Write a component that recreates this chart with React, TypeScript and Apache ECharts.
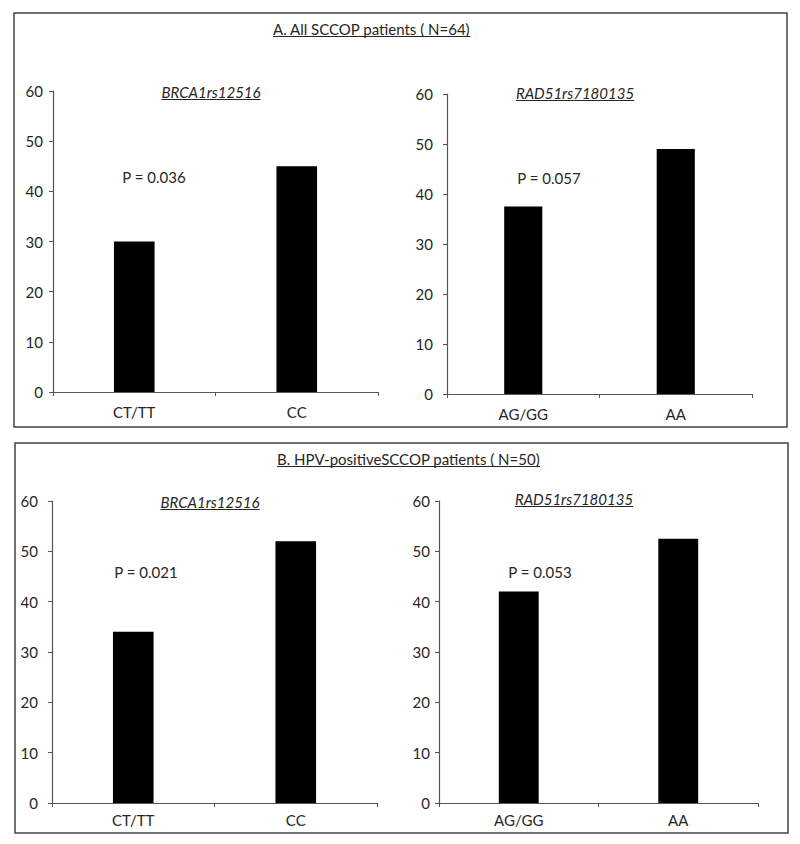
import React, { useEffect, useRef } from "react";
import * as echarts from "echarts";

const categoriesBRCA = ["CT/TT", "CC"];
const categoriesRAD = ["AG/GG", "AA"];
const valuesA_BRCA = [30, 45];
const valuesA_RAD = [37.5, 49];
const valuesB_BRCA = [34, 52];
const valuesB_RAD = [42, 52.5];
const yMin = 0;
const yMax = 60;
const yInterval = 10;

const titleA = "A. All SCCOP patients ( N=64)";
const titleB = "B. HPV-positiveSCCOP patients ( N=50)";
const geneBRCA = "BRCA1rs12516";
const geneRAD = "RAD51rs7180135";
const pA_BRCA = "P = 0.036";
const pA_RAD = "P = 0.057";
const pB_BRCA = "P = 0.021";
const pB_RAD = "P = 0.053";

const FONT = "Lato, 'Open Sans', sans-serif";
const TXT = "#262626";
const FS = 15;

function measure(text: string, size: number, italic = false) {
  const c = document.createElement("canvas");
  const ctx = c.getContext("2d")!;
  ctx.font = `${italic ? "italic " : ""}${size}px ${FONT}`;
  return ctx.measureText(text).width;
}

export default function App() {
  const ref = useRef<HTMLDivElement>(null);
  useEffect(() => {
    if (!ref.current) return;
    const chart = echarts.init(ref.current, undefined, { renderer: "svg" });

    const grids = [
      { left: 53, top: 91, width: 325, height: 301 },
      { left: 447, top: 94, width: 305, height: 300 },
      { left: 52, top: 501, width: 325, height: 302 },
      { left: 439, top: 501, width: 319, height: 302 },
    ];
    const cats = [categoriesBRCA, categoriesRAD, categoriesBRCA, categoriesRAD];
    const vals = [valuesA_BRCA, valuesA_RAD, valuesB_BRCA, valuesB_RAD];
    const yMargins = [10, 14, 14, 9];
    const xMargins = [12, 12, 9, 9];

    const axisLine = { show: true, lineStyle: { color: "#555", width: 1.2 } };

    const graphic: any[] = [];
    graphic.push({
      type: "rect",
      shape: { x: 14, y: 13, width: 773, height: 414 },
      style: { fill: "none", stroke: "#444", lineWidth: 1.5 },
    });
    graphic.push({
      type: "rect",
      shape: { x: 15, y: 443, width: 773, height: 390 },
      style: { fill: "none", stroke: "#444", lineWidth: 1.5 },
    });

    const addText = (
      text: string,
      x: number,
      y: number,
      size: number,
      align: "left" | "center",
      underline: boolean,
      italic = false
    ) => {
      graphic.push({
        type: "text",
        x,
        y,
        style: {
          text,
          fill: TXT,
          font: `${italic ? "italic " : ""}${size}px ${FONT}`,
          textAlign: align,
          textVerticalAlign: "middle",
        },
      });
      if (underline) {
        const w = measure(text, size, italic);
        const x1 = align === "center" ? x - w / 2 : x;
        graphic.push({
          type: "line",
          shape: { x1, y1: y + size / 2, x2: x1 + w, y2: y + size / 2 },
          style: { stroke: TXT, lineWidth: 1 },
        });
      }
    };

    addText(titleA, 273, 29, FS, "left", true);
    addText(titleB, 277, 459, FS, "left", true);
    addText(geneBRCA, 211, 92, FS, "center", true, true);
    addText(geneRAD, 575, 93, FS, "center", true, true);
    addText(geneBRCA, 210, 502, FS, "center", true, true);
    addText(geneRAD, 574, 499, FS, "center", true, true);
    addText(pA_BRCA, 154, 177, FS, "center", false);
    addText(pA_RAD, 549, 178, FS, "center", false);
    addText(pB_BRCA, 146, 572, FS, "center", false);
    addText(pB_RAD, 540, 572, FS, "center", false);

    chart.setOption({
      animation: false,
      backgroundColor: "#fff",
      grid: grids.map((g) => ({ ...g, containLabel: false })),
      xAxis: grids.map((_, i) => ({
        type: "category",
        gridIndex: i,
        data: cats[i],
        boundaryGap: true,
        axisLine,
        axisTick: { show: true, length: 4, lineStyle: { color: "#555" } },
        axisLabel: { color: TXT, fontSize: FS, fontFamily: FONT, margin: xMargins[i] },
        splitLine: { show: false },
      })),
      yAxis: grids.map((_, i) => ({
        type: "value",
        gridIndex: i,
        min: yMin,
        max: yMax,
        interval: yInterval,
        axisLine,
        axisTick: { show: true, length: 4, lineStyle: { color: "#555" } },
        axisLabel: { color: TXT, fontSize: FS, fontFamily: FONT, margin: yMargins[i] },
        splitLine: { show: false },
      })),
      series: grids.map((_, i) => ({
        type: "bar",
        xAxisIndex: i,
        yAxisIndex: i,
        data: vals[i],
        barWidth: "25%",
        itemStyle: { color: "#000" },
      })),
      graphic,
    });

    return () => chart.dispose();
  }, []);

  return (
    <div
      ref={ref}
      style={{ position: "fixed", left: 0, top: 0, width: 800, height: 844, background: "#fff" }}
    />
  );
}
